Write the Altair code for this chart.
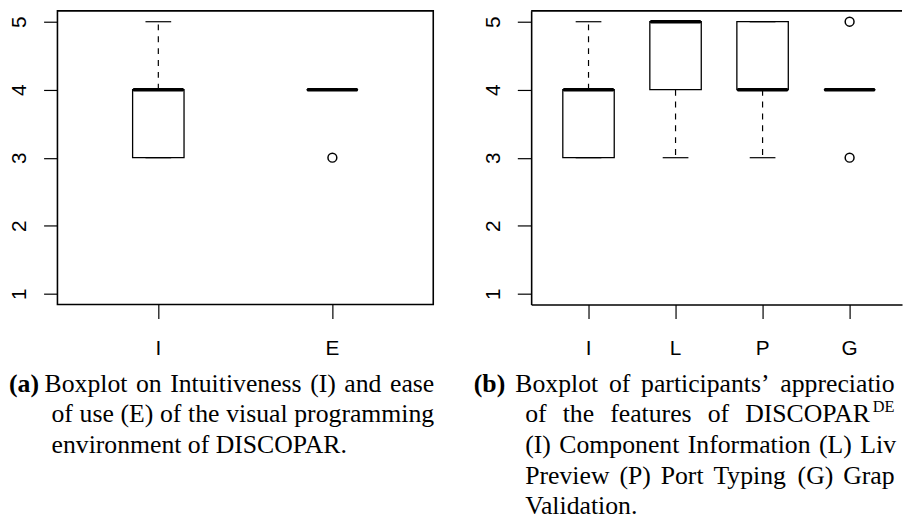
import altair as alt
import pandas as pd

# ---------------- data ----------------
y_ticks = [1, 2, 3, 4, 5]
y_domain = [0.84, 5.16]

a_groups = ["I", "E"]
a_q1 = [3, 4]
a_median = [4, 4]
a_q3 = [4, 4]
a_whisker_low = [3, 4]
a_whisker_high = [5, 4]
a_outlier_groups = ["E"]
a_outlier_values = [3]

b_groups = ["I", "L", "P", "G"]
b_q1 = [3, 4, 4, 4]
b_median = [4, 5, 4, 4]
b_q3 = [4, 5, 5, 4]
b_whisker_low = [3, 3, 3, 4]
b_whisker_high = [5, 5, 5, 4]
b_outlier_groups = ["G", "G"]
b_outlier_values = [5, 3]

a_tag = "(a)"
a_caption = [
    ["Boxplot", "on", "Intuitiveness", "(I)", "and", "ease"],
    ["of", "use", "(E)", "of", "the", "visual", "programming"],
    ["environment of DISCOPAR."],
]
b_tag = "(b)"
b_caption = [
    ["Boxplot", "of", "participants\u2019", "appreciation"],
    ["of", "the", "features", "of", "DISCOPAR"],
    ["(I)", "Component", "Information", "(L)", "Live"],
    ["Preview", "(P)", "Port", "Typing", "(G)", "Graph"],
    ["Validation."],
]
b_superscript = "DE"

# ---------------- layout ----------------
PLOT_H = 297
A_W, B_W = 380, 375
A_LEFT, B_LEFT, TOP = 57, 536, 8
CAP_TOP = TOP + PLOT_H
PAGE_RIGHT = 911
BOX_W, CAP_W = 52, 26
AX_FONT = "Liberation Sans"
AX_SIZE = 21
CAP_FONT = "Liberation Serif"
CAP_SIZE = 26
SUP_SIZE = 16.5
LINE_GAP = 31
FIRST_BASE = 393
FRAME_W = 1.6

TIMES = {" ": 250, "(": 333, ")": 333, ".": 250, ",": 250, ":": 278, "\u2019": 333,
         "a": 444, "b": 500, "c": 444, "d": 500, "e": 444, "f": 333, "g": 500, "h": 500,
         "i": 278, "j": 278, "k": 500, "l": 278, "m": 778, "n": 500, "o": 500, "p": 500,
         "q": 500, "r": 333, "s": 389, "t": 278, "u": 500, "v": 500, "w": 722, "x": 500,
         "y": 500, "z": 444, "A": 722, "B": 667, "C": 667, "D": 722, "E": 611, "F": 556,
         "G": 722, "H": 722, "I": 333, "J": 389, "K": 722, "L": 611, "M": 889, "N": 722,
         "O": 722, "P": 556, "Q": 722, "R": 667, "S": 556, "T": 611, "U": 722, "V": 722,
         "W": 944, "X": 722, "Y": 722, "Z": 611}


def tw(s, size):
    return sum(TIMES.get(c, 500) for c in s) * size / 1000.0


def place_lines(lines, spans, left):
    rows = []
    for k, (words, (x0, x1)) in enumerate(zip(lines, spans)):
        widths = [tw(w, CAP_SIZE) for w in words]
        if x1 is None or len(words) < 2:
            gap = 0.25 * CAP_SIZE
        else:
            gap = (x1 - x0 - sum(widths)) / (len(words) - 1)
        x = x0
        for w, wd in zip(words, widths):
            rows.append({"text": w, "x": x - left,
                         "y": FIRST_BASE + LINE_GAP * k - CAP_TOP,
                         "lim": max(PAGE_RIGHT - x, 1)})
            x += wd + gap
    return pd.DataFrame(rows)


def band_params(n, width, step, first_center):
    pi = 1 - BOX_W / step
    po = (width / step - n + pi) / 2
    leftover = width - step * (n - pi)
    align = (first_center - BOX_W / 2) / leftover
    return pi, po, align


def panel(groups, q1, med, q3, lo, hi, og, ov, width, step, first_center, frame_axes):
    df = pd.DataFrame({"group": groups, "q1": q1, "median": med, "q3": q3,
                       "lo": lo, "hi": hi})
    out = pd.DataFrame({"group": og, "value": ov})
    pi, po, al = band_params(len(groups), width, step, first_center)
    xs = alt.Scale(type="band", domain=groups, paddingInner=pi, paddingOuter=po,
                   align=al, round=False)
    ys = alt.Scale(domain=y_domain, nice=False, zero=False)

    x_axis = alt.Axis(title=None, domain=frame_axes, domainColor="black",
                      domainWidth=FRAME_W, tickSize=14, tickColor="black", tickWidth=1.2,
                      labelAngle=0, labelBaseline="alphabetic", labelPadding=36,
                      labelFont=AX_FONT, labelFontSize=AX_SIZE, labelColor="black",
                      grid=False)
    y_axis = alt.Axis(title=None, values=y_ticks, format="d", domain=frame_axes,
                      domainColor="black", domainWidth=FRAME_W, tickSize=14,
                      tickColor="black", tickWidth=1.2, labelAngle=270,
                      labelAlign="center", labelBaseline="alphabetic", labelPadding=18,
                      labelFont=AX_FONT, labelFontSize=AX_SIZE, labelColor="black",
                      grid=False, labelOverlap=False)

    base = alt.Chart(df)
    box = base.mark_bar(fill="white", stroke="black", strokeWidth=1.3).encode(
        x=alt.X("group:N", scale=xs, sort=groups, axis=x_axis),
        y=alt.Y("q1:Q", scale=ys, axis=y_axis),
        y2="q3:Q",
    )
    wh_up = base.mark_rule(color="black", strokeWidth=1.2, strokeDash=[6, 6]).encode(
        x=alt.X("group:N", sort=groups), y=alt.Y("q3:Q"), y2="hi:Q")
    wh_lo = base.mark_rule(color="black", strokeWidth=1.2, strokeDash=[6, 6]).encode(
        x=alt.X("group:N", sort=groups), y=alt.Y("q1:Q"), y2="lo:Q")
    cap_hi = base.mark_tick(size=CAP_W, thickness=1.2, color="black", opacity=1).encode(
        x=alt.X("group:N", sort=groups), y=alt.Y("hi:Q"))
    cap_lo = base.mark_tick(size=CAP_W, thickness=1.2, color="black", opacity=1).encode(
        x=alt.X("group:N", sort=groups), y=alt.Y("lo:Q"))
    med_layer = base.mark_tick(size=BOX_W, thickness=3.6, color="black", opacity=1,
                               cornerRadius=1.6).encode(
        x=alt.X("group:N", sort=groups), y=alt.Y("median:Q"))
    pts = alt.Chart(out).mark_point(shape="circle", filled=False, size=80, color="black",
                                    strokeWidth=1.5, opacity=1).encode(
        x=alt.X("group:N", sort=groups), y=alt.Y("value:Q"))

    layers = [box, wh_up, wh_lo, cap_hi, cap_lo, med_layer, pts]
    if frame_axes:
        # top edge of the plot frame (the right edge lies outside the picture)
        top_edge = alt.Chart(pd.DataFrame({"edge": ["top"]})).mark_rule(
            color="black", strokeWidth=FRAME_W).encode(
            x=alt.value(0), x2=alt.value(width), y=alt.value(0))
        layers.append(top_edge)
    ch = alt.layer(*layers).properties(width=width, height=PLOT_H)
    if frame_axes:
        ch = ch.properties(view=alt.ViewBackground(stroke="transparent", fill="white"))
    else:
        ch = ch.properties(view=alt.ViewBackground(stroke="black", strokeWidth=FRAME_W,
                                                    fill="white"))
    return ch


def caption(words, tags, sups, width):
    common = dict(align="left", baseline="alphabetic", font=CAP_FONT, color="black")
    enc = dict(x=alt.X("x:Q", scale=None, axis=None),
               y=alt.Y("y:Q", scale=None, axis=None), text="text:N")
    layers = [
        alt.Chart(words).mark_text(fontSize=CAP_SIZE, limit=alt.ExprRef(expr="datum.lim"),
                                   ellipsis="\u200b", **common).encode(**enc),
        alt.Chart(tags).mark_text(fontSize=CAP_SIZE, fontWeight="bold",
                                  **common).encode(**enc),
    ]
    if sups is not None:
        layers.append(alt.Chart(sups).mark_text(fontSize=SUP_SIZE, **common).encode(**enc))
    return alt.layer(*layers).properties(
        width=width, height=1, view=alt.ViewBackground(stroke="transparent"))


a_words = place_lines(a_caption, [(44, 438), (51, 438), (51, None)], A_LEFT)
a_tags = pd.DataFrame([{"text": a_tag, "x": 8 - A_LEFT, "y": FIRST_BASE - CAP_TOP}])
b_words = place_lines(b_caption, [(520, 916.5), (530, 881), (530, 916.5), (530, 916.5),
                                  (530, None)], B_LEFT)
b_tags = pd.DataFrame([{"text": b_tag, "x": 478 - B_LEFT, "y": FIRST_BASE - CAP_TOP}])
b_sups = pd.DataFrame([{"text": b_superscript, "x": 881.5 - B_LEFT,
                        "y": FIRST_BASE + LINE_GAP - 10 - CAP_TOP}])

pa = panel(a_groups, a_q1, a_median, a_q3, a_whisker_low, a_whisker_high,
           a_outlier_groups, a_outlier_values, A_W, 176, 102, False)
pb = panel(b_groups, b_q1, b_median, b_q3, b_whisker_low, b_whisker_high,
           b_outlier_groups, b_outlier_values, B_W, 88, 58, True)
ca = caption(a_words, a_tags, None, A_W)
cb = caption(b_words, b_tags, b_sups, B_W)

chart = alt.concat(
    pa, pb, ca, cb, columns=2,
    spacing={"row": 0, "column": B_LEFT - A_LEFT - A_W},
    bounds="flush", align="each",
).properties(padding={"top": -2, "left": 0, "right": 0, "bottom": 0},
             background="white")

chart.save("out.html", embed_options={"renderer": "svg", "actions": False})
